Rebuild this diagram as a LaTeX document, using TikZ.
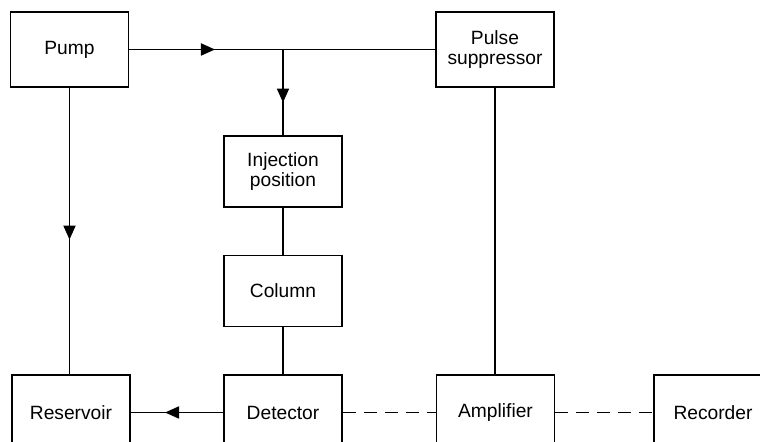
\documentclass[tikz,border=0pt]{standalone}
\usepackage{fontspec}
\setmainfont{Liberation Sans}
\usetikzlibrary{arrows.meta,decorations.markings}
\begin{document}
\begin{tikzpicture}[
        x=0.5pt, y=-0.5pt,
        unit/.style={draw, line width=0.9pt, minimum width=59pt, minimum height=37.5pt, align=center, inner sep=1pt, font=\fontsize{9.6}{10.2}\selectfont},
        small/.style={unit, minimum height=35.5pt},
        flow/.style={line width=0.9pt},
        signal/.style={line width=0.9pt, dash pattern=on 6.5pt off 4pt},
        midarrow/.style={postaction={decorate}, decoration={markings, mark=at position #1 with {\arrow{Triangle[length=7pt,width=6pt]}}}},
    ]
    \clip (0,0) rectangle (760,442);
    \fill[white] (0,0) rectangle (760,442);
    % top row
    \node[unit](pump) at (69.5,49.5){Pump};
    \node[unit](pulse) at (495,49.5){Pulse\\suppressor};
    % middle column
    \node[small](inject) at (283,171.5){Injection\\position};
    \node[small](column) at (283,291){Column};
    % bottom row
    \node[unit](reservoir) at (71,412.5){Reservoir};
    \node[unit](detector) at (283,412.5){Detector};
    \node[unit](amplifier) at (495.5,412.5){Amplifier};
    \node[unit](recorder) at (713,412.5){Recorder};
    \coordinate (split) at (inject.north |- pump.east);
    % liquid flow
    \draw[flow, midarrow=0.28] (pump.east) -- (pulse.west);
    \draw[flow, midarrow=0.62] (split) -- (inject.north);
    \draw[flow, midarrow=0.53] (pump.south) -- (reservoir.north -| pump.south);
    \draw[flow] (inject.south) -- (column.north);
    \draw[flow] (column.south) -- (detector.north);
    \draw[flow] (pulse.south) -- (amplifier.north -| pulse.south);
    \draw[flow, midarrow=0.63] (detector.west) -- (reservoir.east);
    % signal
    \draw[signal] (detector.east) -- (amplifier.west);
    \draw[signal] (amplifier.east) -- (recorder.west);
\end{tikzpicture}
\end{document}
